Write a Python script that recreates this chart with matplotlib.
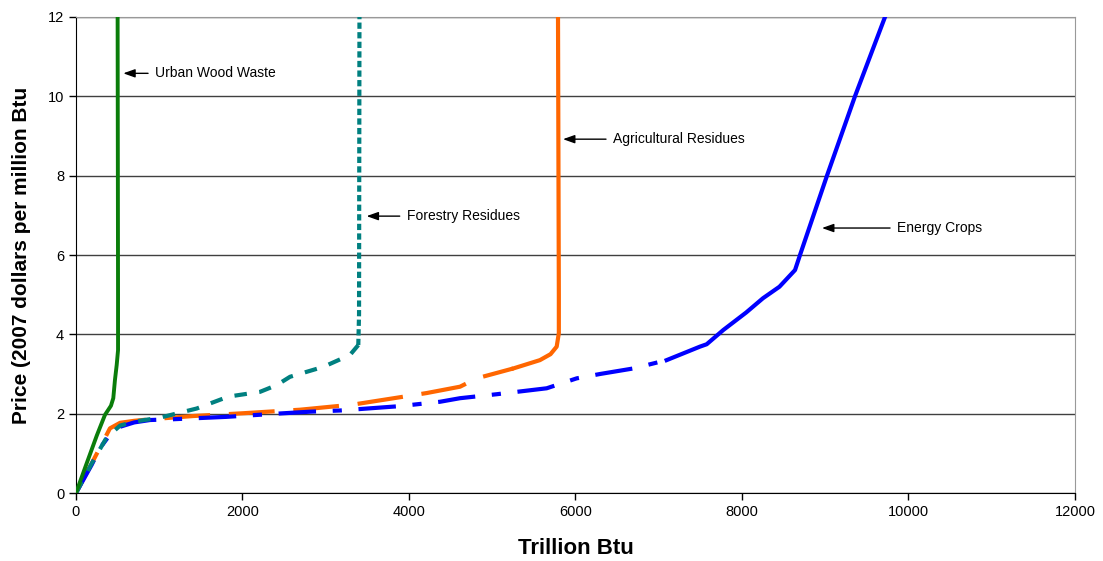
import matplotlib.pyplot as plt

plt.rcParams['font.family'] = ['Liberation Sans', 'DejaVu Sans']

# supply curves (trillion Btu, 2007 $ per million Btu)
urban_x = [0, 120, 250, 348, 420, 448, 468, 489, 505, 505, 500]
urban_y = [0, 0.70, 1.45, 1.97, 2.20, 2.39, 2.85, 3.23, 3.60, 5.0, 12.0]

forest_x = [0, 190, 368, 530, 700, 1009, 1450, 1830, 2210, 2411, 2571, 2971, 3291, 3391, 3400, 3405]
forest_y = [0, 0.75, 1.40, 1.70, 1.80, 1.90, 2.13, 2.43, 2.55, 2.72, 2.93, 3.18, 3.48, 3.73, 4.5, 12.0]

agri_x = [0, 190, 408, 530, 700, 900, 1405, 2000, 2691, 3331, 4213, 4613, 4813, 5253, 5573, 5700, 5774, 5800, 5800, 5790]
agri_y = [0, 0.75, 1.63, 1.77, 1.82, 1.86, 1.94, 2.01, 2.10, 2.23, 2.52, 2.68, 2.89, 3.14, 3.35, 3.50, 3.69, 4.03, 5.0, 12.0]

energy_x = [0, 188, 288, 400, 529, 700, 889, 1170, 1810, 2490, 2811, 3171, 3892, 4372, 4613, 5053, 5654, 6014,
            6294, 6695, 7095, 7495, 7576, 7776, 8050, 8252, 8450, 8637, 8697, 9021, 9357, 9718]
energy_y = [0, 0.71, 1.13, 1.45, 1.67, 1.78, 1.84, 1.86, 1.92, 2.01, 2.05, 2.08, 2.19, 2.30, 2.39, 2.49, 2.64, 2.89,
            3.00, 3.14, 3.35, 3.69, 3.75, 4.11, 4.55, 4.91, 5.20, 5.62, 6.00, 8.00, 10.00, 12.00]

fig = plt.figure(figsize=(11.03, 5.61), dpi=100)
ax = fig.add_axes([0.0689, 0.1212, 0.9057, 0.8485])

lw = 3.0
ax.plot(urban_x, urban_y, color='#0a7d0a', lw=2.8, solid_joinstyle='round', zorder=5)

kf = forest_x.index(3391)
ax.plot(forest_x[:kf + 1], forest_y[:kf + 1], color='#008080', lw=lw, dashes=(3, 3), zorder=4)
ax.plot(forest_x[kf:], forest_y[kf:], color='#008080', lw=lw, dashes=(1.5, 0.8), zorder=4)

ka = agri_x.index(5253)
ax.plot(agri_x[:ka + 1], agri_y[:ka + 1], color='#ff6600', lw=lw, dashes=(11, 4.5), zorder=3)
ax.plot(agri_x[ka:], agri_y[ka:], color='#ff6600', lw=lw, zorder=3)

ke = energy_x.index(7095)
ax.plot(energy_x[:ke + 1], energy_y[:ke + 1], color='#0000ff', lw=lw, dashes=(9, 4, 2.2, 4), zorder=3)
ax.plot(energy_x[ke:], energy_y[ke:], color='#0000ff', lw=lw, zorder=3)

labels = [('Urban Wood Waste', 568, 949, 10.58),
          ('Forestry Residues', 3491, 3972, 6.98),
          ('Agricultural Residues', 5850, 6450, 8.92),
          ('Energy Crops', 8961, 9862, 6.68)]
for txt, hx, tx, y in labels:
    ax.annotate(txt, xy=(hx, y), xytext=(tx, y), va='center', ha='left', fontsize=10,
                arrowprops=dict(arrowstyle='-|>,head_length=0.7,head_width=0.25', color='black', lw=1,
                                shrinkA=3, shrinkB=0))

ax.set_xlim(0, 12000)
ax.set_ylim(0, 12)
ax.set_xticks(range(0, 12001, 2000))
ax.set_yticks(range(0, 13, 2))
ax.tick_params(labelsize=10.5, direction='out', length=5, width=1)
ax.grid(axis='y', color='#404040', lw=1)
ax.set_axisbelow(True)
for s in ['top', 'right']:
    ax.spines[s].set_color('#999999')
ax.spines['left'].set_color('black')
ax.spines['bottom'].set_color('black')

ax.set_xlabel('Trillion Btu', fontsize=16, fontweight='bold', labelpad=14)
ax.set_ylabel('Price (2007 dollars per million Btu', fontsize=15, fontweight='bold', labelpad=12)

fig.savefig('out.png', dpi=100)
